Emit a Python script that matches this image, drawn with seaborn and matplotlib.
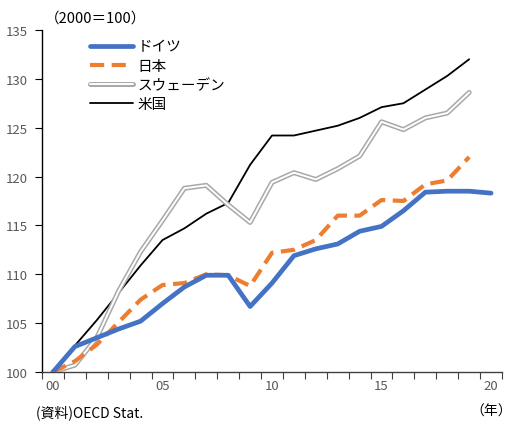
import numpy as np
import pandas as pd
import matplotlib
matplotlib.use("Agg")
import matplotlib.pyplot as plt
import seaborn as sns
from matplotlib.lines import Line2D

sns.set_theme(style="white")
plt.rcParams['font.family'] = ['Noto Sans CJK JP', 'DejaVu Sans']

years = list(range(0, 21))
year_labels = ["00", "05", "10", "15", "20"]
germany = [100.0, 102.6, 103.5, 104.4, 105.2, 107.0, 108.7, 109.9, 109.9, 106.7, 109.1,
           111.9, 112.6, 113.1, 114.4, 114.9, 116.5, 118.4, 118.5, 118.5, 118.3]
japan = [100.0, 101.1, 102.8, 105.1, 107.4, 108.9, 109.1, 110.0, 109.9, 108.8, 112.2,
         112.5, 113.5, 116.0, 116.0, 117.6, 117.5, 119.2, 119.6, 122.0]
sweden = [100.0, 100.7, 103.5, 108.3, 112.3, 115.5, 118.8, 119.1, 117.1, 115.3, 119.4,
          120.4, 119.7, 120.8, 122.1, 125.6, 124.8, 126.0, 126.5, 128.6]
usa = [100.0, 102.7, 105.3, 108.1, 110.9, 113.5, 114.7, 116.2, 117.3, 121.2, 124.2,
       124.2, 124.7, 125.2, 126.0, 127.1, 127.5, 128.9, 130.3, 132.0]
names = ["ドイツ", "日本", "スウェーデン", "米国"]

fig = plt.figure(figsize=(5.13, 4.27), dpi=100)
ax = fig.add_axes([0.0819, 0.1265, 0.8967, 0.801])

def df(vals, name):
    return pd.DataFrame({"year": years[:len(vals)], "value": vals, "country": name})

blue = "#4472C4"
orange = "#ED7D31"
gray = "#A8A8A8"

sns.lineplot(data=df(usa, names[3]), x="year", y="value", ax=ax, color="black", lw=1.3, zorder=3)
sns.lineplot(data=df(sweden, names[2]), x="year", y="value", ax=ax, color=gray, lw=3.6, zorder=4)
sns.lineplot(data=df(sweden, names[2]), x="year", y="value", ax=ax, color="white", lw=1.4, zorder=5)
sns.lineplot(data=df(japan, names[1]), x="year", y="value", ax=ax, color=orange, lw=3.0,
             zorder=6, dashes=False)
ax.lines[-1].set_dashes([3.4, 1.8])
sns.lineplot(data=df(germany, names[0]), x="year", y="value", ax=ax, color=blue, lw=3.4, zorder=7)

ax.set_xlim(-0.5, 20.5)
ax.set_ylim(100, 135)
ax.set_yticks([100, 105, 110, 115, 120, 125, 130, 135])
ax.set_xticks([0, 5, 10, 15, 20])
ax.set_xticklabels(year_labels)
ax.set_xticks(np.arange(-0.5, 21, 1), minor=True)
ax.tick_params(axis="x", which="major", length=0, pad=5, labelsize=9.5, labelcolor="#595959")
ax.tick_params(axis="x", which="minor", length=5, width=0.8, color="#404040", direction="out", bottom=True)
ax.tick_params(axis="y", which="major", length=5, width=0.8, color="black", direction="out", left=True,
               labelsize=9.5, labelcolor="#595959", pad=5)
ax.set_xlabel("")
ax.set_ylabel("")
for s in ["top", "right"]:
    ax.spines[s].set_visible(False)
ax.spines["left"].set_color("black")
ax.spines["left"].set_linewidth(1.0)
ax.spines["bottom"].set_color("#404040")
ax.spines["bottom"].set_linewidth(1.0)

h_de = Line2D([], [], color=blue, lw=3.4)
h_jp = Line2D([], [], color=orange, lw=3.0, dashes=[3.4, 1.8])
h_se = Line2D([], [], color=gray, lw=3.6)
h_se_in = Line2D([], [], color="white", lw=1.4)
h_us = Line2D([], [], color="black", lw=1.3)
leg = ax.legend([h_de, h_jp, (h_se, h_se_in), h_us], names, loc="upper left",
                bbox_to_anchor=(0.075, 1.01), frameon=False, fontsize=10.5,
                handlelength=3.0, handletextpad=0.3, labelspacing=0.35)
for t in leg.get_texts():
    t.set_color("black")

fig.text(0.088, 0.957, "（2000＝100）", fontsize=10.5, color="black", va="center")
fig.text(0.07, 0.033, "(資料)OECD Stat.", fontsize=10, color="black", va="center")
fig.text(0.998, 0.036, "（年）", fontsize=10, color="black", va="center", ha="right")

fig.savefig("out.png", dpi=100)
